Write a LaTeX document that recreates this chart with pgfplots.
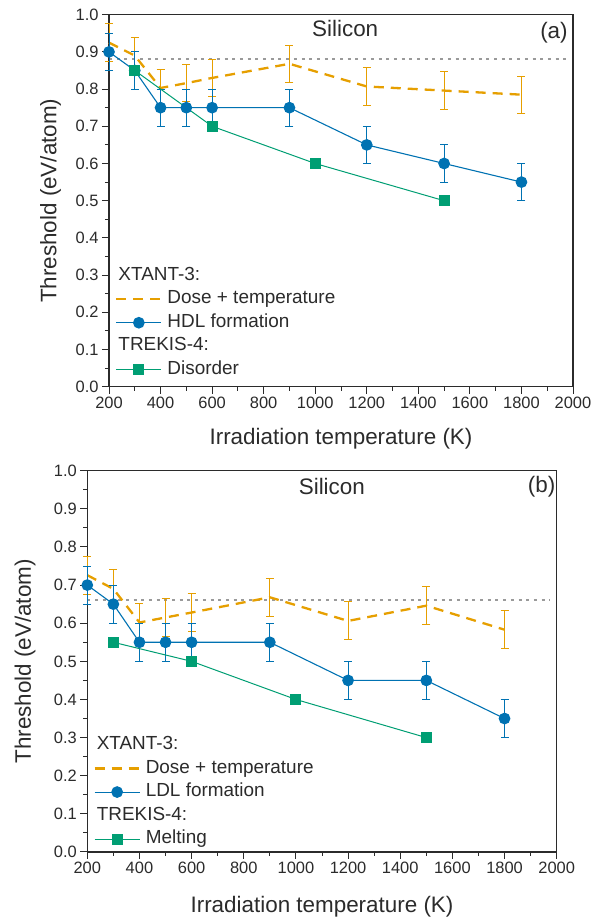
\documentclass[border=0pt]{standalone}
\usepackage{fontspec}
\setmainfont{Liberation Sans}
\usepackage{pgfplots}
\usepackage{pgfplotstable}
\pgfplotsset{compat=1.18}
\definecolor{cor}{HTML}{E69F00}
\definecolor{cbl}{HTML}{0072B2}
\definecolor{cgr}{HTML}{009E73}
\definecolor{axc}{HTML}{2B2B2B}
\definecolor{dgray}{HTML}{9A9A9A}

\pgfplotstableread{
x y
200 0.925
300 0.89
400 0.803
500 0.816
600 0.83
900 0.868
1200 0.807
1500 0.796
1800 0.785
}\orangeA
\pgfplotstableread{
x y
200 0.90
300 0.85
400 0.75
500 0.75
600 0.75
900 0.75
1200 0.65
1500 0.60
1800 0.55
}\blueA
\pgfplotstableread{
x y
300 0.85
600 0.70
1000 0.60
1500 0.50
}\greenA
\pgfplotstableread{
x y
200 0.726
300 0.69
400 0.602
500 0.615
600 0.628
900 0.668
1200 0.606
1500 0.646
1800 0.583
}\orangeB
\pgfplotstableread{
x y
200 0.70
300 0.65
400 0.55
500 0.55
600 0.55
900 0.55
1200 0.45
1500 0.45
1800 0.35
}\blueB
\pgfplotstableread{
x y
300 0.55
600 0.50
1000 0.40
1500 0.30
}\greenB

\pgfplotsset{
  legend image code/.code={\draw[mark repeat=2,mark phase=2,#1] plot coordinates {(0bp,0bp)(22.5bp,0bp)(45bp,0bp)};},
  myaxis/.style={
    scale only axis, anchor=south west, clip=false,
    xmin=200, xmax=2000, ymin=0, ymax=1,
    xtick={200,400,600,800,1000,1200,1400,1600,1800,2000},
    ytick={0,0.1,0.2,0.3,0.4,0.5,0.6,0.7,0.8,0.9,1.0},
    minor x tick num=1, minor y tick num=1,
    tick align=outside, xtick pos=bottom, ytick pos=left,
    major tick length=7bp, minor tick length=4bp,
    axis line style={axc, line width=1.1bp},
    every tick/.style={axc, line width=1bp},
    tick label style={font=\fontsize{16.5}{19}\selectfont, text=axc},
    /pgf/number format/assume math mode=true,
    x tick label style={/pgf/number format/1000 sep={}},
    y tick label style={/pgf/number format/.cd, fixed, fixed zerofill, precision=1},
    xlabel={Irradiation temperature (K)},
    ylabel={Threshold (eV/atom)},
    legend cell align=left,
    legend style={draw=none, fill=none, at={(rel axis cs:0,0)}, anchor=south west,
      inner xsep=0pt, inner ysep=0pt, row sep=6bp, column sep=5bp,
      font=\fontsize{19}{22}\selectfont, text=axc,
      nodes={inner sep=0pt, text height=13.5bp, text depth=4bp}},
  },
  orangestyle/.style={cor, line width=2.3bp, dash pattern=on 10bp off 7bp, mark=none,
    error bars/.cd, y dir=both, y fixed=0.05,
    error bar style={line width=1bp, cor, solid},
    error mark options={rotate=90, mark size=4bp, line width=1bp, cor, solid}},
  bluestyle/.style={cbl, line width=1.1bp, mark=*, mark size=5.3bp, mark options={fill=cbl, draw=cbl, solid},
    error bars/.cd, y dir=both, y fixed=0.05,
    error bar style={line width=1bp, cbl},
    error mark options={rotate=90, mark size=4bp, line width=1bp, cbl}},
  greenstyle/.style={cgr, line width=1bp, mark=square*, mark size=5bp, mark options={fill=cgr, draw=cgr, solid}},
}

\begin{document}
\begin{tikzpicture}
% ---------- (a) ----------
\begin{axis}[myaxis, at={(109bp,531.3bp)}, width=464bp, height=372bp,
  every axis x label/.style={at={(rel axis cs:0.5,0)}, yshift=-52.2bp, anchor=center, font=\fontsize{22.5}{26}\selectfont, text=axc},
  every axis y label/.style={at={(rel axis cs:0,0.5)}, xshift=-58.5bp, rotate=90, anchor=center, font=\fontsize{22.5}{26}\selectfont, text=axc},
  legend style={xshift=6bp, yshift=8bp}]
\addplot[dgray, line width=1.7bp, dash pattern=on 3bp off 4.7bp, forget plot] coordinates {(200,0.88) (1975,0.88)};
\addlegendimage{empty legend}
\addlegendentry{\hspace*{-49bp}XTANT-3:}
\addplot[orangestyle] table[x=x,y=y] {\orangeA};
\addlegendentry{Dose + temperature}
\addplot[bluestyle] table[x=x,y=y] {\blueA};
\addlegendentry{HDL formation}
\addlegendimage{empty legend}
\addlegendentry{\hspace*{-49bp}TREKIS-4:}
\addplot[greenstyle] table[x=x,y=y] {\greenA};
\addlegendentry{Disorder}
\node[font=\fontsize{22.5}{26}\selectfont, text=axc] at (rel axis cs:0.509,0.962) {Silicon};
\node[font=\fontsize{22.5}{26}\selectfont, text=axc] at (rel axis cs:0.959,0.952) {(a)};
\end{axis}
% ---------- (b) ----------
\begin{axis}[myaxis, at={(87.3bp,66bp)}, width=469.4bp, height=381.3bp,
  every axis x label/.style={at={(rel axis cs:0.5,0)}, yshift=-55.2bp, anchor=center, font=\fontsize{22.5}{26}\selectfont, text=axc},
  every axis y label/.style={at={(rel axis cs:0,0.5)}, xshift=-62.3bp, rotate=90, anchor=center, font=\fontsize{22.5}{26}\selectfont, text=axc},
  legend style={xshift=6bp, yshift=4bp}]
\addplot[dgray, line width=1.7bp, dash pattern=on 3bp off 4.7bp, forget plot] coordinates {(200,0.66) (1975,0.66)};
\addlegendimage{empty legend}
\addlegendentry{\hspace*{-49bp}XTANT-3:}
\addplot[orangestyle] table[x=x,y=y] {\orangeB};
\addlegendentry{Dose + temperature}
\addplot[bluestyle] table[x=x,y=y] {\blueB};
\addlegendentry{LDL formation}
\addlegendimage{empty legend}
\addlegendentry{\hspace*{-49bp}TREKIS-4:}
\addplot[greenstyle] table[x=x,y=y] {\greenB};
\addlegendentry{Melting}
\node[font=\fontsize{22.5}{26}\selectfont, text=axc] at (rel axis cs:0.521,0.958) {Silicon};
\node[font=\fontsize{22.5}{26}\selectfont, text=axc] at (rel axis cs:0.968,0.958) {(b)};
\end{axis}
\pgfresetboundingbox
\useasboundingbox (0,0) rectangle (594bp,918bp);
\end{tikzpicture}
\end{document}
